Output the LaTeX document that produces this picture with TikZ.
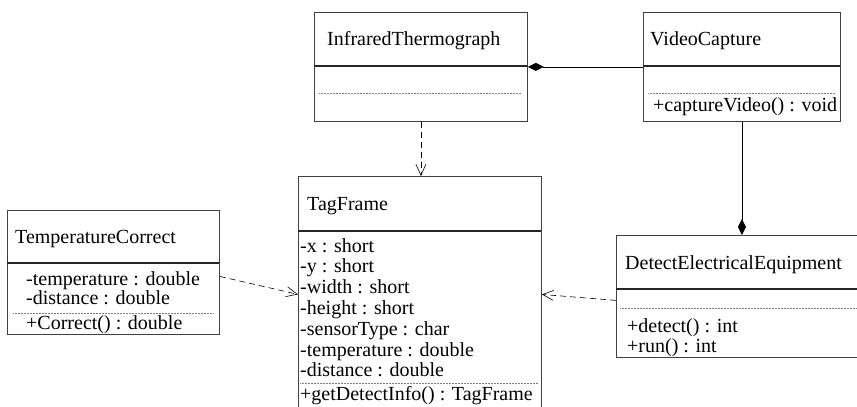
\documentclass[tikz,border=0pt]{standalone}
\usepackage{fontspec}
\setmainfont{Liberation Serif}
\usepackage{tikz}
\usetikzlibrary{
    positioning,
    arrows.meta,
}

\tikzset{
    classbox/.style={draw=black!75,line width=0.8pt,rectangle,
                     inner sep=0pt,anchor=north west},
    divider/.style={draw=black!85,line width=1.4pt},
    opsline/.style={draw=black!50,line width=0.5pt,densely dotted},
    member/.style={anchor=base west,inner sep=0pt,
                   font=\fontsize{20}{20.8}\selectfont},
    depend/.style={draw=black,line width=0.6pt,dash pattern=on 6pt off 4pt,
                   -{Straight Barb[length=11pt,width=10pt]}},
    compose/.style={draw=black,line width=0.8pt,
                    -{Diamond[length=16pt,width=8pt]}},
}

\begin{document}
\begin{tikzpicture}[x=1pt,y=-1pt]
    \useasboundingbox (0,0) rectangle (857,407);
    \clip (0,0) rectangle (857,407);
    %
    %
        % InfraredThermograph
    \node[classbox,minimum width=213pt,minimum height=109pt] (IT) at (314,12) {};
    \node[member] (ITname) at (327,45) {InfraredThermograph};
    \draw[divider] (314,66) -- (527,66);
    \draw[opsline] (319,93) -- (521,93);
    %
        % VideoCapture
    \node[classbox,minimum width=197pt,minimum height=109pt] (VC) at (643,12) {};
    \node[member] (VCname) at (650,45) {VideoCapture};
    \draw[divider] (643,66) -- (840,66);
    \draw[opsline] (648,93) -- (835,93);
    \node[member] (VCop) at (653,111) {+captureVideo() : void};
    %
        % TemperatureCorrect
    \node[classbox,minimum width=212pt,minimum height=124pt] (TC) at (7,210) {};
    \node[member] (TCname) at (15,243) {TemperatureCorrect};
    \draw[divider] (7,263) -- (219,263);
    \node[member] (TCattrA) at (26,285) {-temperature : double};
    \node[member] (TCattrB) at (26,304) {-distance : double};
    \draw[opsline] (13,313) -- (214,313);
    \node[member] (TCop) at (26,329) {+Correct() : double};
    %
        % TagFrame
    \node[classbox,minimum width=243pt,minimum height=236pt] (TF) at (298,176) {};
    \node[member] (TFname) at (307,210) {TagFrame};
    \draw[divider] (298,231) -- (541,231);
    \foreach \attr [count=\i] in {-x : short,-y : short,-width : short,
            -height : short,-sensorType : char,-temperature : double,
            -distance : double}
        \node[member] (TFattr\i) at (300,{252+(\i-1)*20.8}) {\attr};
    \draw[opsline] (300,383) -- (538,383);
    \node[member] (TFop) at (300,400) {+getDetectInfo() : TagFrame};
    %
        % DetectElectricalEquipment
    \node[classbox,minimum width=260pt,minimum height=122pt] (DEE) at (616,235) {};
    \node[member] (DEEname) at (625,269) {DetectElectricalEquipment};
    \draw[divider] (616,289) -- (876,289);
    \draw[opsline] (620,308) -- (876,308);
    \node[member] (DEEopA) at (627,332) {+detect() : int};
    \node[member] (DEEopB) at (627,352) {+run() : int};
    %
    %
        % Dipendenze
    \draw[depend] (IT.south) -- (IT.south |- TF.north);
    \draw[depend] ([yshift=-4pt]TC.east) -- (TF.west);
    \draw[depend] ([yshift=-4pt]DEE.west) -- (TF.east);
    %
        % Composizioni
    \draw[compose] (VC.west |- IT.east) -- (IT.east);
    \draw[compose] (VC.south) -- (VC.south |- DEE.north);
\end{tikzpicture}
\end{document}
